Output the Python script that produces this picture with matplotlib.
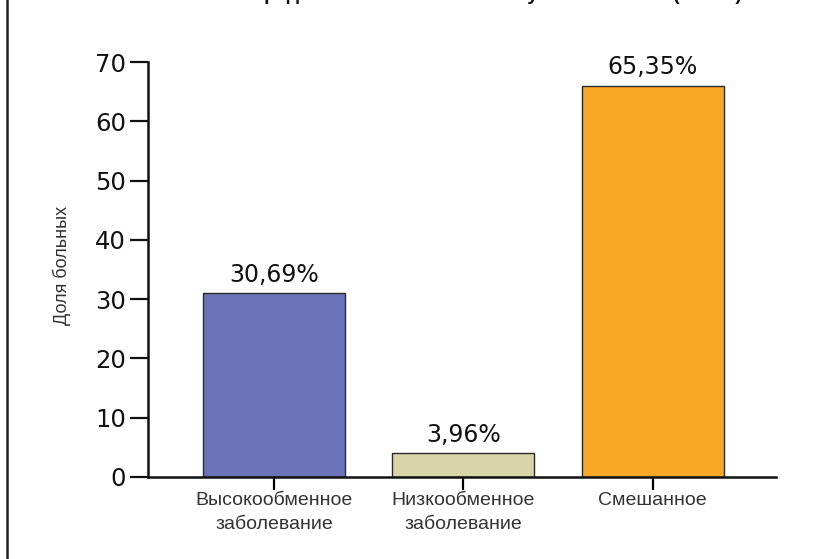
import matplotlib
matplotlib.use('Agg')
import matplotlib.pyplot as plt
from matplotlib.lines import Line2D

plt.rcParams.update({'font.family': 'DejaVu Sans'})

# data
categories = ['Высокообменное\nзаболевание', 'Низкообменное\nзаболевание', 'Смешанное']
counts = [31, 4, 66]
pct_labels = ['30,69%', '3,96%', '65,35%']
colors = ['#6b74b8', '#d9d5a8', '#f9a727']
yticks = [0, 10, 20, 30, 40, 50, 60, 70]

fig = plt.figure(figsize=(8.15, 5.59), dpi=100)
ax = fig.add_axes([0.1816, 0.1467, 0.952 - 0.1816, 0.889 - 0.1467])

x = range(len(categories))
bars = ax.bar(x, counts, width=0.75, color=colors, edgecolor='#2a2a2a', linewidth=1.0)

for b, lab in zip(bars, pct_labels):
    ax.text(b.get_x() + b.get_width() / 2, b.get_height() + 3.1, lab,
            ha='center', va='center', fontsize=17, color='#111')

ax.set_xlim(-0.665, 2.65)
ax.set_ylim(0, 70)
ax.set_yticks(yticks)
ax.set_xticks(list(x))
ax.set_xticklabels(categories, family='Liberation Sans', fontsize=14,
                   color='#333', linespacing=1.55)
ax.tick_params(axis='y', length=13, width=1.6, labelsize=17.5, pad=3, colors='#111')
ax.tick_params(axis='x', length=9, width=1.6, pad=2)

for s in ['top', 'right']:
    ax.spines[s].set_visible(False)
for s in ['left', 'bottom']:
    ax.spines[s].set_linewidth(1.8)
    ax.spines[s].set_color('#111')

ax.set_ylabel('Доля больных', family='Liberation Sans', fontsize=13,
              color='#333')
ax.yaxis.set_label_coords(-0.122, 0.51)

# title (cropped at top in the reference)
fig.text(0.589, 1.0, 'Распределение больных по типу заболевания (n=101)',
         ha='center', va='baseline', fontsize=14, fontweight='bold',
         family='Liberation Sans', color='#111')

# left frame line
fig.add_artist(Line2D([0.009, 0.009], [0, 1], color='#222', lw=1.8,
                      transform=fig.transFigure))

fig.savefig('out.png', dpi=100, facecolor='white')
